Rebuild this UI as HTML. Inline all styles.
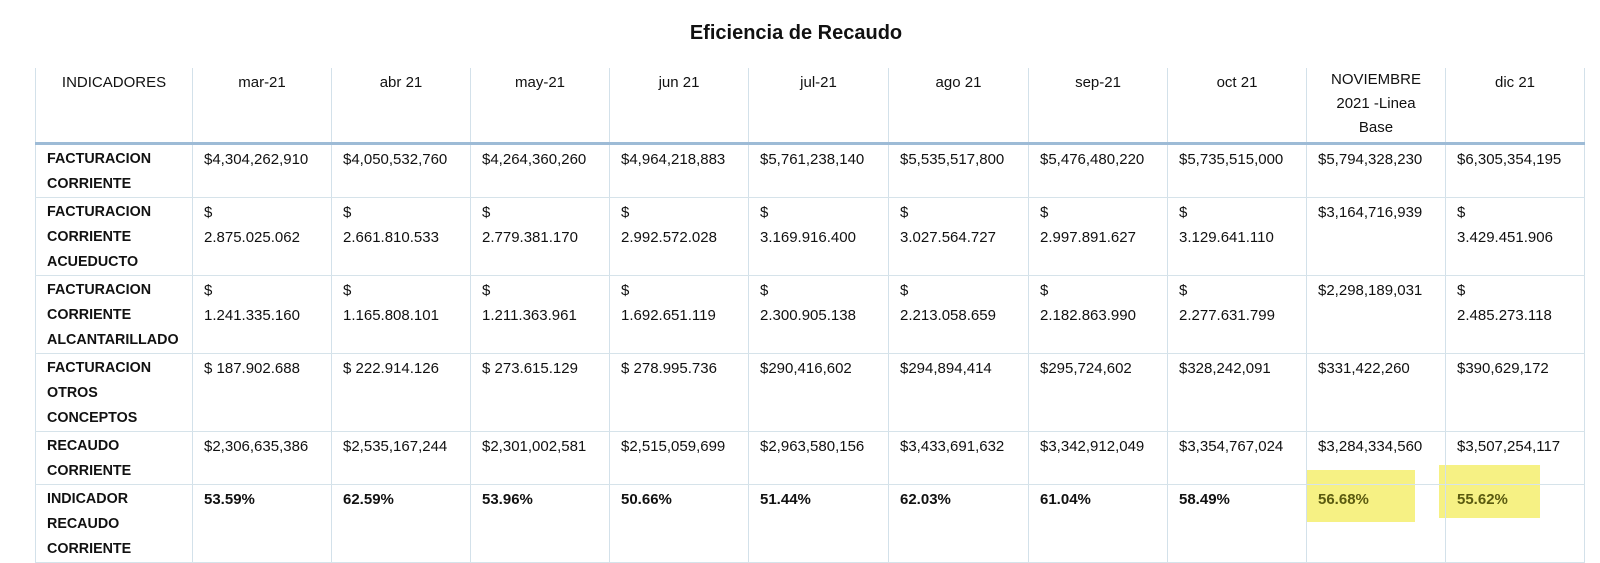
<!DOCTYPE html>
<html><head><meta charset="utf-8"><style>
body{margin:0;width:1600px;height:558px;background:#fff;position:relative;overflow:hidden;font-family:"Liberation Sans",Arial,sans-serif;color:#111}
.title{position:absolute;top:22px;left:16px;width:1560px;text-align:center;font-weight:bold;font-size:20px}
table{position:absolute;left:35px;top:68px;border-collapse:collapse;table-layout:fixed}
td{border-left:1px solid #d3e1ea;border-right:1px solid #d3e1ea;border-bottom:1px solid #d6e3ea;vertical-align:top;padding:2px 0 0 11px;font-size:15px;line-height:25px;white-space:nowrap;overflow:hidden}
tr.h td{text-align:center;padding:2px 0 0 0;border-bottom:3px solid #9dbbd6}
td.l{font-weight:bold;font-size:14.3px}
tr.p td{font-weight:bold}
.hl{position:absolute;background:#f4ef6e;opacity:.85}
</style></head><body>
<div class="title">Eficiencia de Recaudo</div>
<div class="hl" style="left:1307px;top:470px;width:108px;height:52px"></div>
<div class="hl" style="left:1439px;top:465px;width:101px;height:53px"></div>
<table>
<colgroup><col style="width:157px"><col style="width:139px"><col style="width:139px"><col style="width:139px"><col style="width:139px"><col style="width:140px"><col style="width:140px"><col style="width:139px"><col style="width:139px"><col style="width:139px"><col style="width:139px"></colgroup>
<tr class="h" style="height:75px"><td>INDICADORES</td><td>mar-21</td><td>abr 21</td><td>may-21</td><td>jun 21</td><td>jul-21</td><td>ago 21</td><td>sep-21</td><td>oct 21</td><td style="line-height:24px;padding-top:0">NOVIEMBRE<br>2021 -Linea<br>Base</td><td>dic 21</td></tr>
<tr style="height:52px"><td class="l">FACTURACION<br>CORRIENTE</td><td>$4,304,262,910</td><td>$4,050,532,760</td><td>$4,264,360,260</td><td>$4,964,218,883</td><td>$5,761,238,140</td><td>$5,535,517,800</td><td>$5,476,480,220</td><td>$5,735,515,000</td><td>$5,794,328,230</td><td>$6,305,354,195</td></tr>
<tr style="height:75px"><td class="l">FACTURACION<br>CORRIENTE<br>ACUEDUCTO</td><td>$<br>2.875.025.062</td><td>$<br>2.661.810.533</td><td>$<br>2.779.381.170</td><td>$<br>2.992.572.028</td><td>$<br>3.169.916.400</td><td>$<br>3.027.564.727</td><td>$<br>2.997.891.627</td><td>$<br>3.129.641.110</td><td>$3,164,716,939</td><td>$<br>3.429.451.906</td></tr>
<tr style="height:76px"><td class="l">FACTURACION<br>CORRIENTE<br>ALCANTARILLADO</td><td>$<br>1.241.335.160</td><td>$<br>1.165.808.101</td><td>$<br>1.211.363.961</td><td>$<br>1.692.651.119</td><td>$<br>2.300.905.138</td><td>$<br>2.213.058.659</td><td>$<br>2.182.863.990</td><td>$<br>2.277.631.799</td><td>$2,298,189,031</td><td>$<br>2.485.273.118</td></tr>
<tr style="height:75px"><td class="l">FACTURACION<br>OTROS<br>CONCEPTOS</td><td>$ 187.902.688</td><td>$ 222.914.126</td><td>$ 273.615.129</td><td>$ 278.995.736</td><td>$290,416,602</td><td>$294,894,414</td><td>$295,724,602</td><td>$328,242,091</td><td>$331,422,260</td><td>$390,629,172</td></tr>
<tr style="height:51px"><td class="l">RECAUDO<br>CORRIENTE</td><td>$2,306,635,386</td><td>$2,535,167,244</td><td>$2,301,002,581</td><td>$2,515,059,699</td><td>$2,963,580,156</td><td>$3,433,691,632</td><td>$3,342,912,049</td><td>$3,354,767,024</td><td>$3,284,334,560</td><td>$3,507,254,117</td></tr>
<tr class="p" style="height:75px"><td class="l">INDICADOR<br>RECAUDO<br>CORRIENTE</td><td>53.59%</td><td>62.59%</td><td>53.96%</td><td>50.66%</td><td>51.44%</td><td>62.03%</td><td>61.04%</td><td>58.49%</td><td style="color:#5a5a10">56.68%</td><td style="color:#5a5a10">55.62%</td></tr>
</table>
</body></html>
